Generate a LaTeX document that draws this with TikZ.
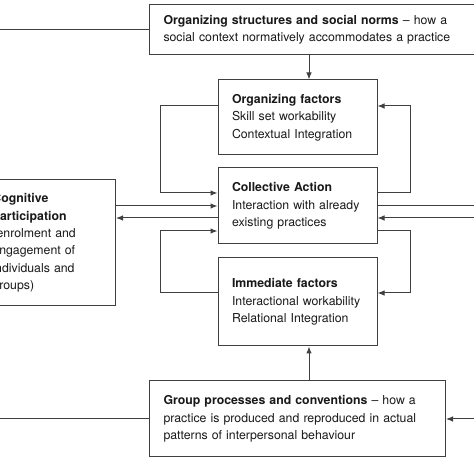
\documentclass[tikz,border=0pt]{standalone}
\usepackage{fontspec}
\setmainfont{TeX Gyre Heros}
\usetikzlibrary{positioning, arrows.meta}
\tikzset{>={Latex[length=7pt, width=5.5pt]}, node distance = 12pt, x=1pt, y=1pt}

\begin{document}
\begin{tikzpicture}[block_factor/.style ={rectangle, draw=black!75, line width=1pt, fill=white, text width=131pt, align=left, inner xsep=14pt, minimum height=75pt, font=\fontsize{12.3}{17.3}\selectfont, text=black!90}, block_wide/.style={block_factor, anchor=west},
link/.style={draw=black!75, line width=1pt}]
    \useasboundingbox (0,0) rectangle (474,474);
    \clip (0,0) rectangle (474,474);
    \coordinate (lft) at (0,0);
    \coordinate (rgt) at (474,0);

    % middle column
    \node[block_factor] (org) at (297.5,356.5) {\textbf{Organizing factors}\\ Skill set workability\\ Contextual Integration};
    \node[block_factor, below=of org, minimum height=76pt] (action) {\textbf{Collective Action}\\ Interaction with already\\ existing practices};
    \node[block_factor, below=13pt of action, minimum height=88pt] (immediate) {\textbf{Immediate factors}\\ Interactional workability\\ Relational Integration};

    % outer boxes
    \node[block_wide, text width=330pt, minimum height=50pt] (structures) at (149,444) {\textbf{Organizing structures and social norms} -- how a\\ social context normatively accommodates a practice};
    \node[block_wide, text width=268pt, minimum height=76pt] (group) at (149,55) {\textbf{Group processes and conventions} -- how a\\ practice is produced and reproduced in actual\\ patterns of interpersonal behaviour};
    \node[block_factor, anchor=east, text width=109pt, minimum height=126pt] (cognitive) at (116,231) {\textbf{Cognitive}\\ \textbf{participation}\\ (enrolment and\\ engagement of\\ individuals and\\ groups)};

    % loops round the middle column
    \draw[link, ->] (structures.south -| 309,0) -- (org.north -| 309,0);
    \draw[link, ->] (org.west |- 0,368) -- ++(-57,0) |- (action.west |- 0,281);
    \draw[link, ->] (action.east |- 0,281) -- ++(33,0) |- (org.east |- 0,368);
    \draw[link, ->] (immediate.west |- 0,181) -- ++(-57,0) |- (action.west |- 0,243);
    \draw[link, ->] (action.east |- 0,243) -- ++(33,0) |- (immediate.east |- 0,181);
    \draw[link, ->] (group.north -| 309,0) -- (immediate.south -| 309,0);

    % links to the sides
    \draw[link, ->] (cognitive.east |- action.west) -- (action.west);
    \draw[link, ->] (action.west |- 0,256) -- (cognitive.east |- 0,256);
    \draw[link] (action.east) -- (action.east -| rgt);
    \draw[link, ->] (rgt |- 0,256) -- (action.east |- 0,256);
    \draw[link] (structures.west) -- (structures.west -| lft);
    \draw[link] (group.west) -- (group.west -| lft);
    \draw[link, ->] (group.east -| rgt) -- (group.east);
\end{tikzpicture}
\end{document}
